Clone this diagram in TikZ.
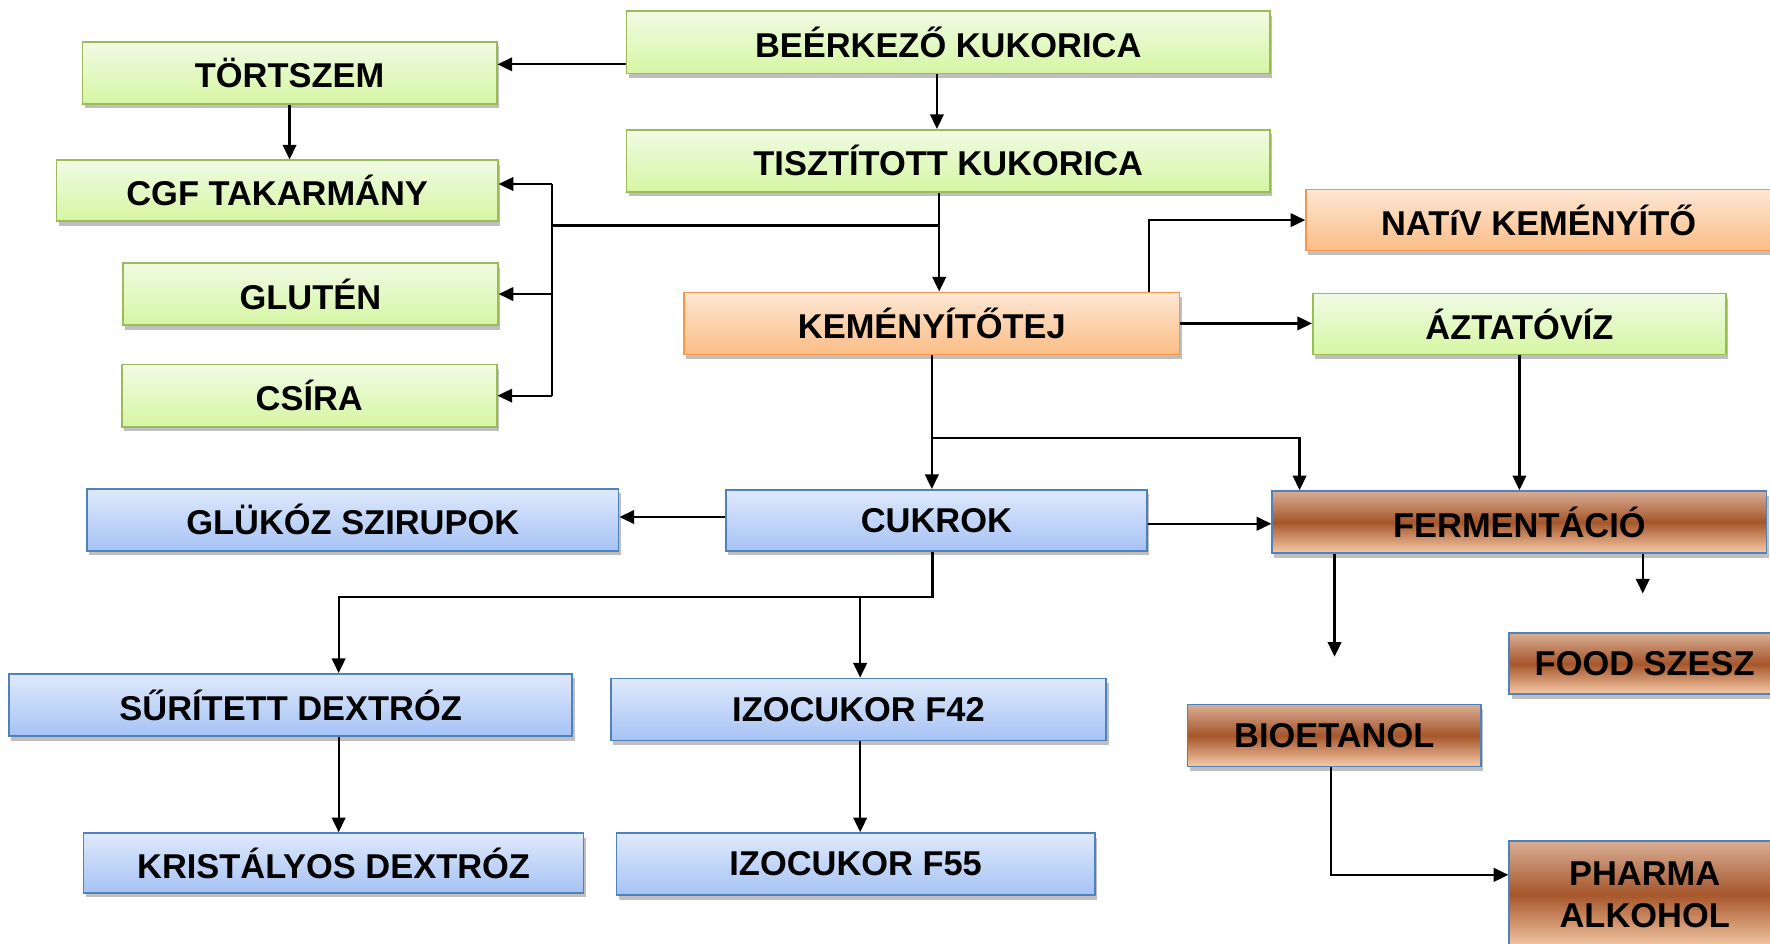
\documentclass[tikz,border=0pt]{standalone}
\usepackage{fontspec}
\setmainfont{Liberation Sans}
\usetikzlibrary{arrows.meta,calc,shadows}
\definecolor{gTop}{HTML}{F0FBE4}
\definecolor{gBot}{HTML}{D6F6A3}
\definecolor{gLine}{HTML}{9BBB59}
\definecolor{oTop}{HTML}{FDE7D4}
\definecolor{oBot}{HTML}{FBBD86}
\definecolor{oLine}{HTML}{F79646}
\definecolor{bTop}{HTML}{DFE9FB}
\definecolor{bBot}{HTML}{A6C3F5}
\definecolor{bLine}{HTML}{4F81BD}
\definecolor{rTop}{HTML}{D8AE95}
\definecolor{rMid}{HTML}{A6562B}
\definecolor{rBot}{HTML}{F6CBA8}
\tikzset{
  box/.style={rectangle, inner sep=0pt, line width=1.5pt, align=center,
    font=\bfseries\fontsize{30.5}{37}\selectfont, text=black,
    drop shadow={shadow xshift=2pt, shadow yshift=-4pt, opacity=0.25, fill=black}},
  gbox/.style={box, draw=gLine, top color=gTop, bottom color=gBot},
  obox/.style={box, draw=oLine, top color=oTop, bottom color=oBot},
  bbox/.style={box, draw=bLine, top color=bTop, bottom color=bBot},
  rbox/.style={box, draw=bLine, top color=rTop, bottom color=rBot, middle color=rMid},
  link/.style={line width=2pt, draw=black},
  arr/.style={link, -{Triangle[length=13pt,width=12pt]}}
}
\begin{document}
\begin{tikzpicture}[x=1pt,y=-1pt]
\useasboundingbox (0,0) rectangle (1568,836);
\fill[white] (0,0) rectangle (1568,836);
\clip (0,0) rectangle (1568,836);
% green
\node[gbox, minimum width=570pt, minimum height=55pt] (beer) at (840,37.5) {BEÉRKEZŐ KUKORICA};
\node[gbox, minimum width=570pt, minimum height=55pt] (tisz) at (840,142.5) {TISZTÍTOTT KUKORICA};
\node[gbox, minimum width=367pt, minimum height=55pt] (tort) at (256.5,64.5) {TÖRTSZEM};
\node[gbox, minimum width=391pt, minimum height=54pt] (cgf) at (245.5,169) {CGF TAKARMÁNY};
\node[gbox, minimum width=332pt, minimum height=55pt] (glut) at (275,260.5) {GLUTÉN};
\node[gbox, minimum width=332pt, minimum height=55pt] (csira) at (274,350.5) {CSÍRA};
\node[gbox, minimum width=366pt, minimum height=54pt] (aztat) at (1346,287) {ÁZTATÓVÍZ};
% orange
\node[obox, minimum width=412pt, minimum height=54pt] (nativ) at (1363,195) {NATíV KEMÉNYÍTŐ};
\node[obox, minimum width=439pt, minimum height=55pt] (kem) at (825.5,286.5) {KEMÉNYÍTŐTEJ};
% blue
\node[bbox, minimum width=471pt, minimum height=55pt] (gluk) at (312.5,460.5) {GLÜKÓZ SZIRUPOK};
\node[bbox, minimum width=373pt, minimum height=54pt] (cukr) at (829.5,461) {CUKROK};
\node[bbox, minimum width=499pt, minimum height=55pt] (surit) at (257.5,624.5) {SŰRÍTETT DEXTRÓZ};
\node[bbox, minimum width=439pt, minimum height=55pt] (f42) at (760.5,628.5) {IZOCUKOR F42};
\node[bbox, minimum width=443pt, minimum height=53pt] (krist) at (295.5,764.5) {KRISTÁLYOS DEXTRÓZ};
\node[bbox, minimum width=424pt, minimum height=55pt] (f55) at (758,765.5) {IZOCUKOR F55};
% brown
\node[rbox, minimum width=438pt, minimum height=55pt] (ferm) at (1346,462.5) {FERMENTÁCIÓ};
\node[rbox, minimum width=240pt, minimum height=54pt] (food) at (1457,588) {FOOD SZESZ};
\node[rbox, minimum width=260pt, minimum height=55pt] (bio) at (1182,651.5) {BIOETANOL};
\node[rbox, minimum width=240pt, minimum height=95pt] (pharma) at (1457,792.5) {PHARMA\\ALKOHOL};
% connectors
\coordinate (b1) at ($(beer.west)+(0,19.5)$);
\draw[arr] (b1) -- (b1 -| tort.east);
\draw[arr] ([xshift=-10pt]beer.south) -- ([xshift=-10pt]tisz.north);
\draw[arr] (tort.south) -- (tort.south |- cgf.north);
\coordinate (t1) at ($(tisz.south)+(-8,0)$);
\draw[arr] (t1) -- (t1 |- kem.north);
\coordinate (j1) at ($(tisz.south)+(-8,29)$);
\coordinate (bt) at ($(cgf.east)+(47,-6)$);
\coordinate (bb) at (bt |- csira.east);
\draw[link] (j1) -- (j1 -| bt);
\draw[link] (bt) -- (bb);
\draw[arr] (bt) -- (bt -| cgf.east);
\draw[arr] (bt |- glut.east) -- (glut.east);
\draw[arr] (bb) -- (csira.east);
\coordinate (k1) at ($(kem.north east)+(-28,0)$);
\draw[arr] (k1) |- (nativ.west);
\draw[arr] (kem.east) -- (kem.east -| aztat.west);
\draw[arr] (kem.south) -- (kem.south |- cukr.north);
\coordinate (k2) at ($(kem.south)+(0,73)$);
\coordinate (f1) at ($(ferm.north west)+(25,0)$);
\draw[arr] (k2) -| (f1);
\draw[arr] (aztat.south) -- (aztat.south |- ferm.north);
\coordinate (c0) at ($(cukr.east)+(0,3)$);
\draw[arr] (c0) -- (c0 -| ferm.west);
\coordinate (c1) at ($(cukr.west)+(0,-3)$);
\draw[arr] (c1) -- (c1 -| gluk.east);
\coordinate (c3) at ($(cukr.south)+(-3.5,0)$);
\coordinate (c2) at ($(cukr.south)+(-3.5,40)$);
\coordinate (s1) at ($(surit.north)+(42.5,0)$);
\coordinate (i1) at ($(f42.north)+(1.5,0)$);
\draw[arr] (c3) -- (c2) -| (s1);
\draw[arr] (c2 -| i1) -- (i1);
\coordinate (s2) at ($(surit.south)+(42.5,0)$);
\draw[arr] (s2) -- (s2 |- krist.north);
\coordinate (i2) at ($(f42.south)+(1.5,0)$);
\draw[arr] (i2) -- (i2 |- f55.north);
\coordinate (fb) at ($(ferm.south west)+(56,0)$);
\coordinate (fbe) at ($(fb)+(0,91)$);
\draw[arr] (fb) -- (fbe);
\coordinate (fc) at ($(ferm.south west)+(329,0)$);
\coordinate (fce) at ($(fc)+(0,35)$);
\draw[arr] (fc) -- (fce);
\coordinate (bo) at ($(bio.south)+(-3,0)$);
\coordinate (pw) at ($(pharma.west)+(0,-17.5)$);
\draw[arr] (bo) |- (pw);
\end{tikzpicture}
\end{document}
